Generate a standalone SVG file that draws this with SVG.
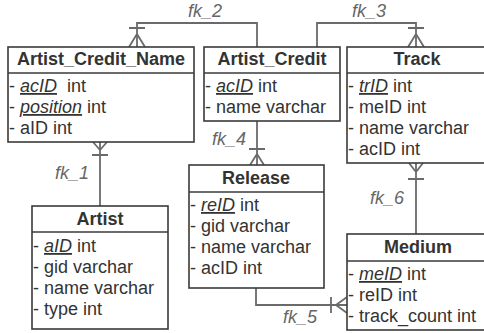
<svg xmlns="http://www.w3.org/2000/svg" width="484" height="333" viewBox="0 0 484 333">
<style>
text{font-family:"Liberation Sans",Arial,sans-serif;font-size:18px;fill:#333}
.t{font-weight:bold;text-anchor:middle}
.k{font-style:italic;text-decoration:underline}
.box{fill:#fff;stroke:#3a3a3a;stroke-width:1.6}
.sep{stroke:#3a3a3a;stroke-width:1.6}
.c{fill:none;stroke:#6a6a6a;stroke-width:1.8}
.fk{font-style:italic;fill:#666}
</style>
<rect width="484" height="333" fill="#fff"/>
<g id="connectors">
  <!-- fk_2 -->
  <path class="c" d="M257,47 V23 H137 V47"/>
  <path class="c" d="M129,28 H145 M137,34 L129,47 M137,34 L145,47"/>
  <text class="fk" x="188" y="17">fk_2</text>
  <!-- fk_3 -->
  <path class="c" d="M317,47 V23 H416 V47"/>
  <path class="c" d="M408,28 H424 M416,34 L408,47 M416,34 L424,47"/>
  <text class="fk" x="352" y="17">fk_3</text>
  <!-- fk_1 -->
  <path class="c" d="M100,142 V206"/>
  <path class="c" d="M92,155 H108 M100,150 L93,142 M100,150 L107,142"/>
  <text class="fk" x="55" y="179">fk_1</text>
  <!-- fk_4 -->
  <path class="c" d="M257,121 V165"/>
  <path class="c" d="M249,149 H265 M257,154 L250,165 M257,154 L264,165"/>
  <text class="fk" x="212" y="145">fk_4</text>
  <!-- fk_6 -->
  <path class="c" d="M416,163 V234"/>
  <path class="c" d="M408,179 H424 M416,172 L409,163 M416,172 L423,163"/>
  <text class="fk" x="370" y="204">fk_6</text>
  <!-- fk_5 -->
  <path class="c" d="M256,288 V305 H347"/>
  <path class="c" d="M331,297 V313 M336,305 L347,297 M336,305 L347,313"/>
  <text class="fk" x="283" y="323">fk_5</text>
</g>
<g id="Artist_Credit_Name">
  <rect class="box" x="8" y="47" width="186" height="95"/>
  <line class="sep" x1="8" y1="73" x2="194" y2="73"/>
  <text class="t" x="101" y="65">Artist_Credit_Name</text>
  <text x="9" y="92">- <tspan class="k">acID</tspan><tspan dx="5"> int</tspan></text>
  <text x="9" y="113">- <tspan class="k">position</tspan> int</text>
  <text x="9" y="134">- aID int</text>
</g>
<g id="Artist_Credit">
  <rect class="box" x="204" y="47" width="136" height="74"/>
  <line class="sep" x1="204" y1="73" x2="340" y2="73"/>
  <text class="t" x="272" y="65">Artist_Credit</text>
  <text x="205" y="92">- <tspan class="k">acID</tspan> int</text>
  <text x="205" y="113">- name varchar</text>
</g>
<g id="Track">
  <rect class="box" x="347" y="47" width="141" height="116"/>
  <line class="sep" x1="347" y1="73" x2="488" y2="73"/>
  <text class="t" x="417" y="65">Track</text>
  <text x="348" y="92">- <tspan class="k">trID</tspan> int</text>
  <text x="348" y="113">- meID int</text>
  <text x="348" y="134">- name varchar</text>
  <text x="348" y="155">- acID int</text>
</g>
<g id="Artist">
  <rect class="box" x="32" y="206" width="136" height="123"/>
  <line class="sep" x1="32" y1="232" x2="168" y2="232"/>
  <text class="t" x="100" y="225">Artist</text>
  <text x="33" y="252">- <tspan class="k">aID</tspan> int</text>
  <text x="33" y="273">- gid varchar</text>
  <text x="33" y="294">- name varchar</text>
  <text x="33" y="315">- type int</text>
</g>
<g id="Release">
  <rect class="box" x="189" y="165" width="135" height="123"/>
  <line class="sep" x1="189" y1="192" x2="324" y2="192"/>
  <text class="t" x="256" y="184">Release</text>
  <text x="190" y="211">- <tspan class="k">reID</tspan> int</text>
  <text x="190" y="232">- gid varchar</text>
  <text x="190" y="253">- name varchar</text>
  <text x="190" y="274">- acID int</text>
</g>
<g id="Medium">
  <rect class="box" x="347" y="234" width="141" height="96"/>
  <line class="sep" x1="347" y1="261" x2="488" y2="261"/>
  <text class="t" x="418" y="253">Medium</text>
  <text x="348" y="280">- <tspan class="k">meID</tspan> int</text>
  <text x="348" y="301">- reID int</text>
  <text x="348" y="322">- track_count int</text>
</g>
</svg>
